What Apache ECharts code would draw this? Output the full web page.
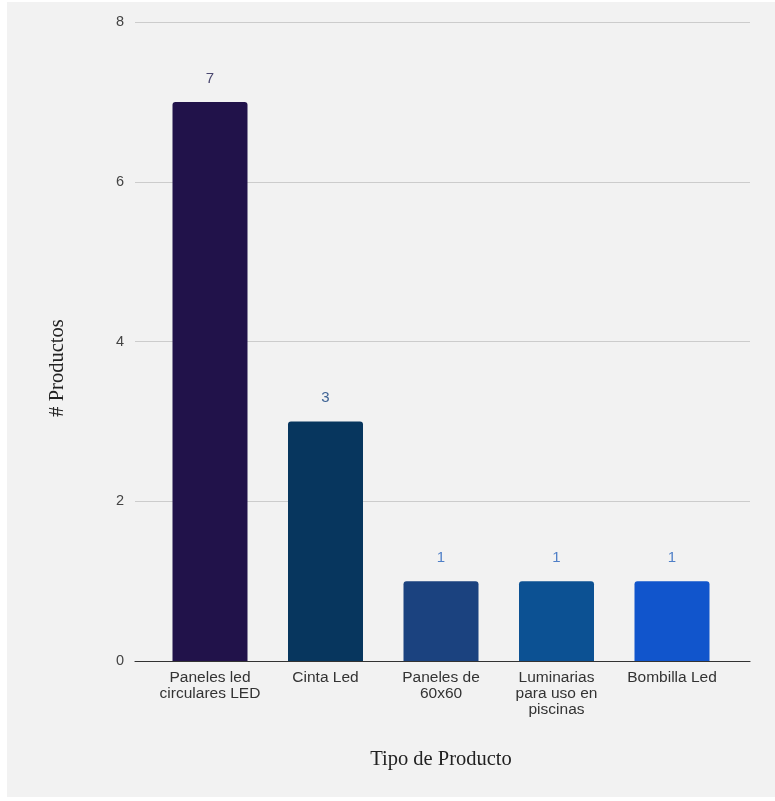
<!DOCTYPE html>
<html><head><meta charset="utf-8">
<script src="https://cdn.jsdelivr.net/npm/echarts@6/dist/echarts.min.js"></script>
<style>html,body{margin:0;padding:0;background:#fff;}#c{position:absolute;left:7px;top:2px;width:768px;height:795px;background:#f2f2f2;}</style>
</head><body><div id="c"></div>
<script>
const categories = ['Paneles led\ncirculares LED', 'Cinta Led', 'Paneles de\n60x60', 'Luminarias\npara uso en\npiscinas', 'Bombilla Led'];
const values = [7, 3, 1, 1, 1];
const barColors = ['#21124a', '#07365e', '#1b427f', '#0c5193', '#1155cc'];
const labelColors = ['#4b4870', '#3f6495', '#4f7fc7', '#4f7fc7', '#4f7fc7'];
const yTicks = [0, 2, 4, 6, 8];
const xTitle = 'Tipo de Producto';
const yTitle = '# Productos';

const chart = echarts.init(document.getElementById('c'), null, {renderer: 'canvas'});
const gridTop = 20, gridBottom = 795 - 659;
chart.setOption({
  backgroundColor: '#f2f2f2',
  animation: false,
  grid: [
    {left: 128, right: 25, top: gridTop, bottom: gridBottom},
    {left: 145.25, right: 45.25, top: gridTop, bottom: gridBottom}
  ],
  xAxis: [
    {gridIndex: 0, type: 'category', data: [''], axisLine: {show: true, lineStyle: {color: '#333', width: 1.2}}, axisTick: {show: false}, axisLabel: {show: false}},
    {gridIndex: 1, type: 'category', data: categories, axisLine: {show: false}, axisTick: {show: false},
     axisLabel: {interval: 0, color: '#333', fontFamily: 'Liberation Sans, Arial', fontSize: 15.5, lineHeight: 16, margin: 9}}
  ],
  yAxis: [
    {gridIndex: 0, type: 'value', min: yTicks[0], max: yTicks[yTicks.length-1], interval: 2,
     axisLine: {show: false}, axisTick: {show: false},
     axisLabel: {color: '#444', fontFamily: 'Liberation Sans, Arial', fontSize: 14.5, margin: 11},
     splitLine: {lineStyle: {color: '#cccccc', width: 1.2}}},
    {gridIndex: 1, type: 'value', min: yTicks[0], max: yTicks[yTicks.length-1], interval: 2, show: false, splitLine: {show: false}}
  ],
  series: [{
    type: 'bar', xAxisIndex: 1, yAxisIndex: 1, barWidth: 75,
    data: values.map((v, i) => ({value: v, itemStyle: {color: barColors[i], borderRadius: [3, 3, 0, 0]},
      label: {color: labelColors[i]}})),
    label: {show: true, position: 'top', distance: 16, fontFamily: 'Liberation Sans, Arial', fontSize: 15}
  }],
  graphic: [
    {type: 'text', x: 434, y: 758, style: {text: xTitle, fontFamily: 'Liberation Serif, Times New Roman', fontSize: 20.5, fill: '#222', align: 'center', verticalAlign: 'middle'}},
    {type: 'text', x: 51, y: 366, rotation: Math.PI/2, style: {text: yTitle, fontFamily: 'Liberation Serif, Times New Roman', fontSize: 20.5, fill: '#222', align: 'center', verticalAlign: 'middle'}}
  ]
});
</script></body></html>
